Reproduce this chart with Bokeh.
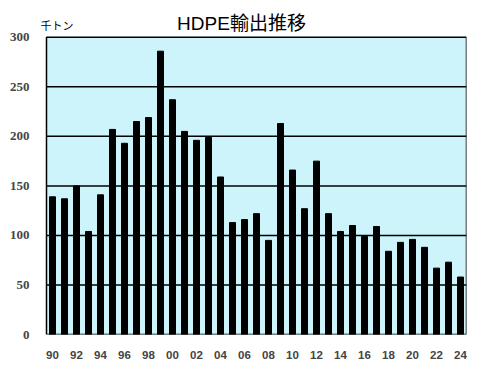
from bokeh.plotting import figure
from bokeh.models import Range1d, FixedTicker, Label
from bokeh.embed import file_html
from bokeh.resources import INLINE

years = list(range(1990, 2025))
values = [139, 137, 150, 104, 141, 207, 193, 215, 219, 286,
          237, 205, 196, 199, 159, 113, 116, 122, 95, 213,
          166, 127, 175, 122, 104, 110, 99, 109, 84, 93,
          96, 88, 67, 73, 58]
tick_years = list(range(1990, 2025, 2))
tick_labels = [f"{y % 100:02d}" for y in tick_years]
y_ticks = [0, 50, 100, 150, 200, 250, 300]
grid_vals = [50, 100, 150, 200, 250]

X0, X1 = 1989.5, 2024.5
YMAX = 300
y_top = YMAX + 32 * 300 / 299

p = figure(width=474, height=361, output_backend="svg", toolbar_location=None,
           x_range=Range1d(1989.0, X1), y_range=Range1d(0, y_top),
           min_border_left=40, min_border_right=8, min_border_top=5, min_border_bottom=25)
p.background_fill_color = "white"
p.border_fill_color = "white"
p.outline_line_color = None
p.xgrid.visible = False
p.ygrid.visible = False

p.quad(left=X0, right=X1, bottom=0, top=YMAX, fill_color="#cdf3fb",
       line_color="black", line_width=1.5)
p.segment(x0=[X0] * len(grid_vals), x1=[X1] * len(grid_vals), y0=grid_vals, y1=grid_vals,
          line_color="black", line_width=1.5)
p.vbar(x=years, top=values, width=0.5, color="black")

p.xaxis.ticker = FixedTicker(ticks=tick_years)
p.xaxis.major_label_overrides = {y: l for y, l in zip(tick_years, tick_labels)}
p.xaxis.axis_line_color = None
p.xaxis.major_tick_line_color = None
p.xaxis.minor_tick_line_color = None
p.xaxis.major_label_text_font = "Liberation Sans"
p.xaxis.major_label_text_font_style = "bold"
p.xaxis.major_label_text_font_size = "11.5px"
p.xaxis.major_label_standoff = 10

p.yaxis.ticker = FixedTicker(ticks=y_ticks)
p.yaxis.axis_line_color = None
p.yaxis.major_tick_line_color = None
p.yaxis.minor_tick_line_color = None
p.yaxis.major_label_text_font = "Liberation Serif"
p.yaxis.major_label_text_font_style = "bold"
p.yaxis.major_label_text_font_size = "13px"
p.yaxis.major_label_standoff = 5

p.add_layout(Label(x=2005.75, y=314, text="HDPE輸出推移", text_align="center",
                   text_baseline="middle", text_font="Liberation Sans, Noto Sans CJK JP",
                   text_font_size="19px", text_color="black"))
p.add_layout(Label(x=1989.0, y=312, text="千トン", text_align="left",
                   text_baseline="middle", text_font="Noto Sans CJK JP",
                   text_font_size="11px", text_color="black"))

open("out.html", "w").write(file_html(p, INLINE))
